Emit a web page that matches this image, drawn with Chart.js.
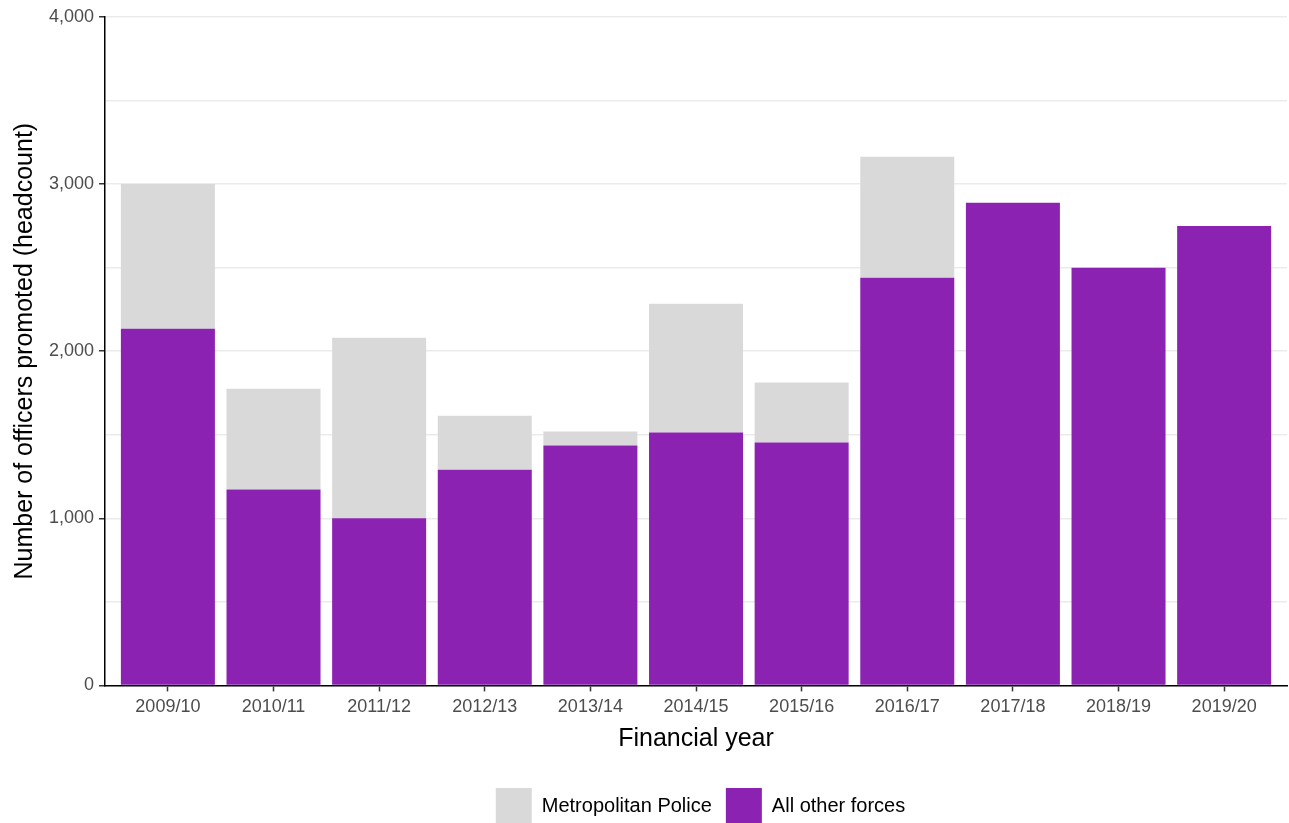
<!DOCTYPE html>
<html lang="en">
<head>
  <meta charset="UTF-8">
  <title>Officers promoted</title>
  <script src="https://cdn.jsdelivr.net/npm/chart.js@4.4.1/dist/chart.umd.min.js"></script>
  <style>
    * { margin: 0; padding: 0; }
    body { background: #fff; }
    .wrap { width: 1289px; height: 823px; }
  </style>
</head>
<body>
  <div class="wrap"><canvas id="chart"></canvas></div>
  <script>
    const years = ['2009/10', '2010/11', '2011/12', '2012/13', '2013/14', '2014/15',
                   '2015/16', '2016/17', '2017/18', '2018/19', '2019/20'];
    const otherForces = [2135, 1172, 1000, 1291, 1435, 1513, 1453, 2439, 2888, 2499, 2750];
    const metPolice = [866, 604, 1081, 323, 84, 771, 359, 724, 0, 0, 0];

    Chart.defaults.font.family = '"Liberation Sans", Arial, sans-serif';

    // linear x so the axis can be expanded a bit past the outer bars
    const toPoints = arr => arr.map((v, i) => ({ x: i, y: v }));

    // legend in the reference sits centred under the plot, not the canvas
    const legendShift = {
      id: 'legendShift',
      afterLayout(chart) {
        chart.legend.left += 54;
        chart.legend.right += 54;
      }
    };

    new Chart(document.getElementById('chart'), {
      type: 'bar',
      data: {
        datasets: [
          { label: 'All other forces', data: toPoints(otherForces), backgroundColor: '#8c22b2' },
          { label: 'Metropolitan Police', data: toPoints(metPolice), backgroundColor: '#d9d9d9' }
        ]
      },
      plugins: [legendShift],
      options: {
        responsive: true,
        maintainAspectRatio: false,
        animation: false,
        layout: { padding: { top: 17, right: 2, left: 6, bottom: -11 } },
        datasets: { bar: { barPercentage: 0.89, categoryPercentage: 1 } },
        plugins: {
          tooltip: { enabled: false },
          legend: {
            position: 'bottom',
            reverse: true,
            labels: {
              boxWidth: 36, boxHeight: 36, padding: 14,
              color: '#000', font: { size: 20 }
            }
          }
        },
        scales: {
          x: {
            type: 'linear',
            stacked: true,
            offset: false,
            min: -0.595, max: 10.595,
            afterBuildTicks: axis => { axis.ticks = years.map((_, i) => ({ value: i })); },
            border: { display: true, color: '#000', width: 1.5 },
            grid: { display: true, offset: false, drawOnChartArea: false, tickLength: 6, tickColor: '#333', tickWidth: 1.5 },
            ticks: { color: '#4d4d4d', font: { size: 18 }, padding: 5, maxRotation: 0, autoSkip: false,
                     callback: v => years[v] },
            title: { display: true, text: 'Financial year', color: '#000', font: { size: 25 }, padding: { top: 1, bottom: 20 } }
          },
          y: {
            stacked: true,
            min: 0, max: 4000,
            border: { display: true, color: '#000', width: 1.5 },
            grid: {
              color: '#ebebeb', lineWidth: 1.5, tickLength: 6,
              tickColor: ctx => ctx.tick && ctx.tick.value % 1000 === 0 ? '#333' : 'rgba(0,0,0,0)'
            },
            ticks: {
              stepSize: 500, color: '#4d4d4d', font: { size: 18 }, padding: 5,
              callback: v => v % 1000 === 0 ? v.toLocaleString('en-GB') : ''
            },
            title: { display: true, text: 'Number of officers promoted (headcount)', color: '#000', font: { size: 25 }, padding: { bottom: 4 } }
          }
        }
      }
    });
  </script>
</body>
</html>
